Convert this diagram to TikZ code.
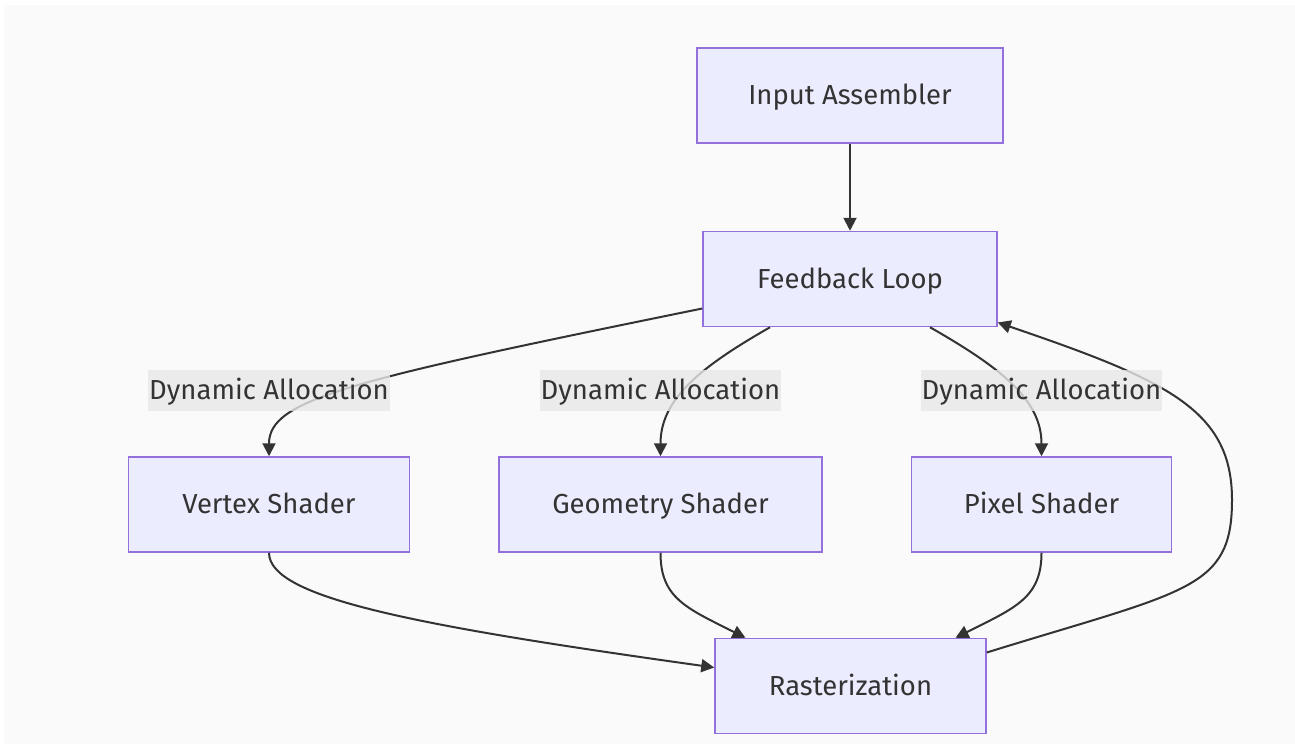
\documentclass[tikz,border=0pt]{standalone}
\usepackage{fontspec}
\setmainfont{Fira Sans}
\usetikzlibrary{arrows.meta, positioning}

\definecolor{nodefill}{HTML}{ECECFF}
\definecolor{nodeline}{HTML}{9370DB}
\definecolor{ink}{HTML}{333333}
\definecolor{canvas}{HTML}{FAFAFA}
\definecolor{labelfill}{HTML}{E8E8E8}

\newcommand{\stagefont}{\fontsize{27.5}{33}\selectfont}

\tikzset{
  stage/.style={draw=nodeline, fill=nodefill, line width=1.5pt,
    minimum height=95pt, text=ink, font=\stagefont,
    text height=20pt, text depth=1.5pt},
  alloc/.style={fill=labelfill, fill opacity=0.8, text opacity=1, text=ink,
    minimum width=239pt, minimum height=41pt, inner xsep=1pt, font=\stagefont,
    text height=20pt, text depth=1.5pt},
  flow/.style={draw=ink, line width=2pt},
}

\begin{document}
\begin{tikzpicture}[x=1pt, y=-1pt, ->, >={Triangle[length=13pt, width=13pt]}]
  \useasboundingbox (0,0) rectangle (1295,744);
  \fill[canvas] (4,5) rectangle (1295,744);

  % pipeline stages
  \node[stage, minimum width=306pt] (ia) at (850,95.5) {Input Assembler};
  \node[stage, minimum width=294pt, below=87pt of ia] (fl) {Feedback Loop};
  \node[stage, minimum width=323pt, below=129pt of fl, xshift=-189.5pt] (gs) {Geometry Shader};
  \node[stage, minimum width=281pt, left=88pt of gs] (vs) {Vertex Shader};
  \node[stage, minimum width=260pt, right=88pt of gs] (ps) {Pixel Shader};
  \node[stage, minimum width=271pt, below=85pt of gs, xshift=190pt] (rast) {Rasterization};

  \coordinate (bend) at (1232,500);

  \draw[flow] (ia) -- (fl);
  \draw[flow] ([yshift=-29.5pt]fl.west) .. controls +(-353,72) and +(0,-57) .. (vs.north);
  \draw[flow] ([xshift=-80pt]fl.south) .. controls +(-70,40) and +(0,-57) .. (gs.north);
  \draw[flow] ([xshift=80pt]fl.south) .. controls +(70,40) and +(0,-57) .. (ps.north);
  \draw[flow] (vs.south) .. controls +(0,45) and +(-300,-42) .. ([yshift=18.5pt]rast.west);
  \draw[flow] (gs.south) .. controls +(0,45) and +(-60,-30) .. ([xshift=-105pt]rast.north);
  \draw[flow] (ps.south) .. controls +(0,45) and +(60,-30) .. ([xshift=105pt]rast.north);
  % feedback back into the loop
  \draw[flow] ([yshift=33.5pt]rast.east) .. controls +(200,-62) and +(0,90) .. (bend)
    .. controls +(0,-90) and +(170,58) .. ([yshift=-43.5pt]fl.east);

  % edge labels
  \node[alloc, above=45pt of vs] (avs) {Dynamic Allocation};
  \node[alloc, above=45pt of gs] (ags) {Dynamic Allocation};
  \node[alloc, above=45pt of ps] (aps) {Dynamic Allocation};
\end{tikzpicture}
\end{document}
